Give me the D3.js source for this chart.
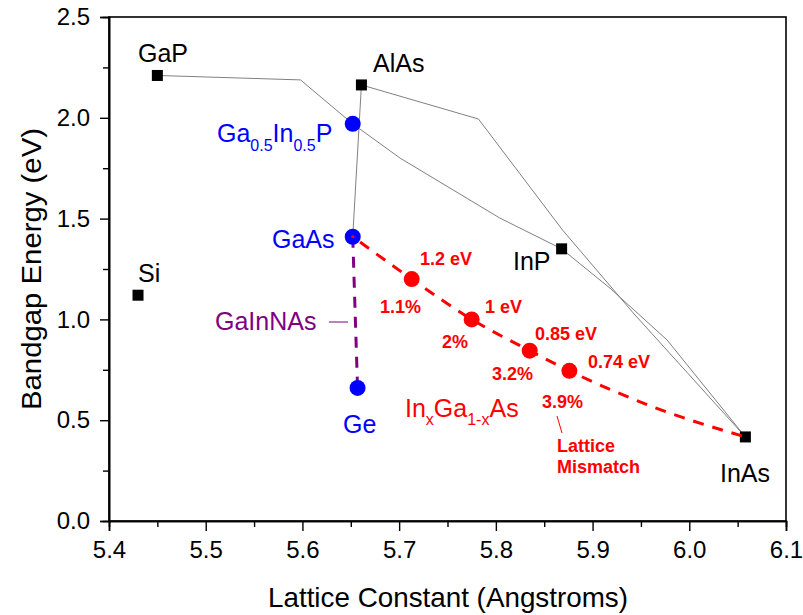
<!DOCTYPE html>
<html><head><meta charset="utf-8">
<script src="https://cdn.jsdelivr.net/npm/d3@7"></script>
<style>body{margin:0;background:#fff}svg{display:block;font-family:"Liberation Sans",Arial,sans-serif}</style>
</head><body><svg id="c" width="803" height="615"></svg>
<script>
// ---- data ----
const xTicks = [5.4, 5.5, 5.6, 5.7, 5.8, 5.9, 6.0, 6.1];
const yTicks = [0.0, 0.5, 1.0, 1.5, 2.0, 2.5];
const binaryNames = ["GaP", "AlAs", "Si", "InP", "InAs"];
const binaryA = [5.45, 5.661, 5.43, 5.868, 6.058];
const binaryE = [2.21, 2.163, 1.12, 1.35, 0.417];
const blueNames = ["Ga0.5In0.5P", "GaAs", "Ge"];
const blueA = [5.652, 5.652, 5.657];
const blueE = [1.97, 1.41, 0.66];
const redA = [5.713, 5.775, 5.835, 5.876];
const redE = [1.2, 1.0, 0.845, 0.745];
const redEnergyLabels = ["1.2 eV", "1 eV", "0.85 eV", "0.74 eV"];
const redMismatchLabels = ["1.1%", "2%", "3.2%", "3.9%"];
// gray alloy curves
const gapInpA = [5.45, 5.598, 5.652, 5.701, 5.804, 5.868];
const gapInpE = [2.21, 2.188, 1.97, 1.80, 1.503, 1.35];
const alasGaasA = [5.661, 5.652];
const alasGaasE = [2.163, 1.41];
const alasInasA = [5.661, 5.782, 5.869, 5.942, 6.058];
const alasInasE = [2.163, 1.994, 1.443, 1.032, 0.417];
const inpInasA = [5.868, 5.918, 5.977, 6.058];
const inpInasE = [1.35, 1.155, 0.898, 0.417];
// InGaAs dashed curve
const ingaasA = [5.652, 5.713, 5.775, 5.835, 5.876, 5.963, 6.058];
const ingaasE = [1.41, 1.2, 1.0, 0.845, 0.745, 0.565, 0.417];
// GaInNAs dashed line
const gainnasA = [5.652, 5.657];
const gainnasE = [1.41, 0.66];

// ---- layout ----
const svg = d3.select("#c");
const L = 109, R = 786, T = 17, B = 521;
const x = d3.scaleLinear().domain([5.4, 6.1]).range([L, R]);
const y = d3.scaleLinear().domain([0, 2.5]).range([B, T]);
const zip = (a, e) => a.map((v, i) => [v, e[i]]);
const line = d3.line().x(d => x(d[0])).y(d => y(d[1]));
const smooth = d3.line().x(d => x(d[0])).y(d => y(d[1])).curve(d3.curveMonotoneX);

// frame
svg.append("rect").attr("x", L).attr("y", T).attr("width", R - L).attr("height", B - T)
  .attr("fill", "none").attr("stroke", "#000").attr("stroke-width", 1.6);

// axes
const xAxis = svg.append("g").attr("transform", `translate(0,${B})`)
  .call(d3.axisBottom(x).tickValues(xTicks).tickFormat(d3.format(".1f")).tickSize(10).tickPadding(10));
const xMinor = svg.append("g").attr("transform", `translate(0,${B})`)
  .call(d3.axisBottom(x).tickValues(d3.range(5.45, 6.1, 0.1)).tickFormat("").tickSize(6));
const yAxis = svg.append("g").attr("transform", `translate(${L},0)`)
  .call(d3.axisLeft(y).tickValues(yTicks).tickFormat(d3.format(".1f")).tickSize(9).tickPadding(10));
const yMinor = svg.append("g").attr("transform", `translate(${L},0)`)
  .call(d3.axisLeft(y).tickValues(d3.range(0.25, 2.5, 0.5)).tickFormat("").tickSize(6));
[xAxis, xMinor, yAxis, yMinor].forEach(g => {
  g.select(".domain").attr("stroke-width", 1.6);
  g.selectAll(".tick line").attr("stroke-width", 1.4);
  g.selectAll("text").attr("font-size", 24).attr("fill", "#000")
    .attr("font-family", '"Liberation Sans",Arial,sans-serif');
});

// axis titles
svg.append("text").attr("x", 448).attr("y", 607).attr("text-anchor", "middle")
  .attr("font-size", 28).attr("textLength", 360).attr("lengthAdjust", "spacingAndGlyphs")
  .text("Lattice Constant (Angstroms)");
svg.append("text").attr("transform", `translate(41,269) rotate(-90)`)
  .attr("text-anchor", "middle").attr("font-size", 28).attr("textLength", 282)
  .attr("lengthAdjust", "spacingAndGlyphs").text("Bandgap Energy (eV)");

// gray curves
[[gapInpA, gapInpE], [alasGaasA, alasGaasE], [alasInasA, alasInasE], [inpInasA, inpInasE]].forEach(([a, e]) => {
  svg.append("path").attr("d", line(zip(a, e))).attr("fill", "none")
    .attr("stroke", "#808080").attr("stroke-width", 1);
});

// GaInNAs dashed
svg.append("path").attr("d", line(zip(gainnasA, gainnasE))).attr("fill", "none")
  .attr("stroke", "#800080").attr("stroke-width", 3).attr("stroke-dasharray", "11,9");

// leader lines
svg.append("line").attr("x1", 329).attr("y1", 322).attr("x2", 348).attr("y2", 322)
  .attr("stroke", "#800080").attr("stroke-width", 1);
svg.append("line").attr("x1", 557).attr("y1", 416).attr("x2", 562).attr("y2", 433)
  .attr("stroke", "#ff0000").attr("stroke-width", 1);

// markers
svg.selectAll(".sq").data(zip(binaryA, binaryE)).enter().append("rect")
  .attr("x", d => x(d[0]) - 5.5).attr("y", d => y(d[1]) - 5.5).attr("width", 11).attr("height", 11)
  .attr("fill", "#000");
svg.selectAll(".bc").data(zip(blueA, blueE)).enter().append("circle")
  .attr("cx", d => x(d[0])).attr("cy", d => y(d[1])).attr("r", 8).attr("fill", "#0000ff");
svg.append("circle").attr("cx", x(blueA[1])).attr("cy", y(blueE[1])).attr("r", 1.6).attr("fill", "#ff0000");

// InGaAs dashed (drawn over markers, as in reference)
svg.append("path").attr("d", smooth(zip(ingaasA, ingaasE))).attr("fill", "none")
  .attr("stroke", "#ff0000").attr("stroke-width", 3).attr("stroke-dasharray", "11,9")
  .attr("stroke-dashoffset", -9);
svg.selectAll(".rc").data(zip(redA, redE)).enter().append("circle")
  .attr("cx", d => x(d[0])).attr("cy", d => y(d[1])).attr("r", 8).attr("fill", "#ff0000");

// labels
function txt(t, px, py, opts = {}) {
  return svg.append("text").attr("x", px).attr("y", py)
    .attr("font-size", opts.size || 25).attr("fill", opts.fill || "#000")
    .attr("font-weight", opts.bold ? "bold" : "normal")
    .attr("text-anchor", opts.anchor || "start").text(t);
}
txt(binaryNames[0], 138, 62);
txt(binaryNames[1], 373, 72);
txt(binaryNames[2], 138, 282);
txt(binaryNames[3], 513, 270);
txt(binaryNames[4], 720, 482);

// Ga0.5In0.5P
const gip = svg.append("text").attr("x", 217).attr("y", 142).attr("font-size", 25).attr("fill", "#0000ff");
gip.append("tspan").text("Ga");
gip.append("tspan").attr("font-size", 16).attr("dy", 9).text("0.5");
gip.append("tspan").attr("dy", -9).text("In");
gip.append("tspan").attr("font-size", 16).attr("dy", 9).text("0.5");
gip.append("tspan").attr("dy", -9).text("P");
txt(blueNames[1], 272, 248, {fill: "#0000ff"});
txt(blueNames[2], 343, 433, {fill: "#0000ff"});
txt("GaInNAs", 215, 330, {fill: "#800080"});

// InxGa1-xAs
const iga = svg.append("text").attr("x", 405).attr("y", 417).attr("font-size", 25).attr("fill", "#ff0000");
iga.append("tspan").text("In");
iga.append("tspan").attr("font-size", 16).attr("dy", 8).text("x");
iga.append("tspan").attr("dy", -8).text("Ga");
iga.append("tspan").attr("font-size", 16).attr("dy", 8).text("1-x");
iga.append("tspan").attr("dy", -8).text("As");

const eLab = [[420, 265], [485, 313], [535, 340], [588, 368]];
const mLab = [[380, 313], [442, 348], [492, 380], [542, 408]];
redEnergyLabels.forEach((t, i) => txt(t, eLab[i][0], eLab[i][1], {fill: "#ff0000", bold: true, size: 18}));
redMismatchLabels.forEach((t, i) => txt(t, mLab[i][0], mLab[i][1], {fill: "#ff0000", bold: true, size: 18}));
txt("Lattice", 557, 452, {fill: "#ff0000", bold: true, size: 18});
txt("Mismatch", 557, 473, {fill: "#ff0000", bold: true, size: 18});
</script></body></html>
